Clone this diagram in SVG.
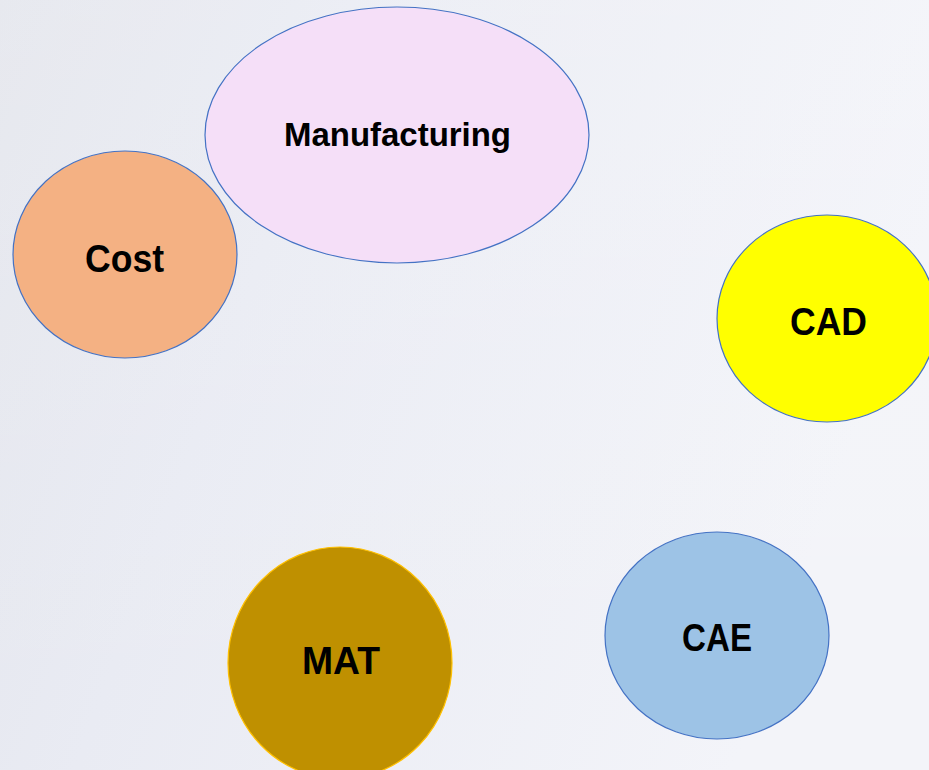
<svg xmlns="http://www.w3.org/2000/svg" width="929" height="770" viewBox="0 0 929 770">
<defs>
<linearGradient id="bg" x1="0" y1="0" x2="1" y2="0.3">
<stop offset="0" stop-color="#E3E5EC"/>
<stop offset="0.35" stop-color="#E9EBF3"/>
<stop offset="1" stop-color="#F3F4F9"/>
</linearGradient>
<linearGradient id="bgv" x1="0" y1="0" x2="0" y2="1">
<stop offset="0" stop-color="#FFFFFF" stop-opacity="0.15"/>
<stop offset="1" stop-color="#FFFFFF" stop-opacity="0"/>
</linearGradient>
<style>
.lbl{font-family:"Liberation Sans",Arial,sans-serif;font-weight:bold;fill:#000;text-anchor:middle}
.blue{stroke:#4472C4;stroke-width:1.2}
</style>
</defs>
<rect width="929" height="770" fill="url(#bg)"/>
<rect width="929" height="770" fill="url(#bgv)"/>
<g id="nodes">
<g id="manufacturing">
<ellipse cx="397" cy="135" rx="192" ry="128" fill="#F5DFF8" class="blue"/>
<text x="397.5" y="146" class="lbl" font-size="33" textLength="227" lengthAdjust="spacingAndGlyphs">Manufacturing</text>
</g>
<g id="cost">
<ellipse cx="125" cy="254.5" rx="112" ry="103.5" fill="#F4B183" class="blue"/>
<text x="124.5" y="272" class="lbl" font-size="38" textLength="79" lengthAdjust="spacingAndGlyphs">Cost</text>
</g>
<g id="cad">
<ellipse cx="827" cy="318.5" rx="110" ry="103.5" fill="#FFFF00" class="blue"/>
<text x="828.5" y="335" class="lbl" font-size="38" textLength="77" lengthAdjust="spacingAndGlyphs">CAD</text>
</g>
<g id="cae">
<ellipse cx="717" cy="635.5" rx="112" ry="103.5" fill="#9DC3E6" class="blue"/>
<text x="717" y="651" class="lbl" font-size="38" textLength="70" lengthAdjust="spacingAndGlyphs">CAE</text>
</g>
<g id="mat">
<ellipse cx="340" cy="663" rx="112" ry="116" fill="#BF9000" stroke="#FFC000" stroke-width="1.2"/>
<text x="341" y="674" class="lbl" font-size="38" textLength="78" lengthAdjust="spacingAndGlyphs">MAT</text>
</g>
</g>
<g id="connectors"/>
</svg>
